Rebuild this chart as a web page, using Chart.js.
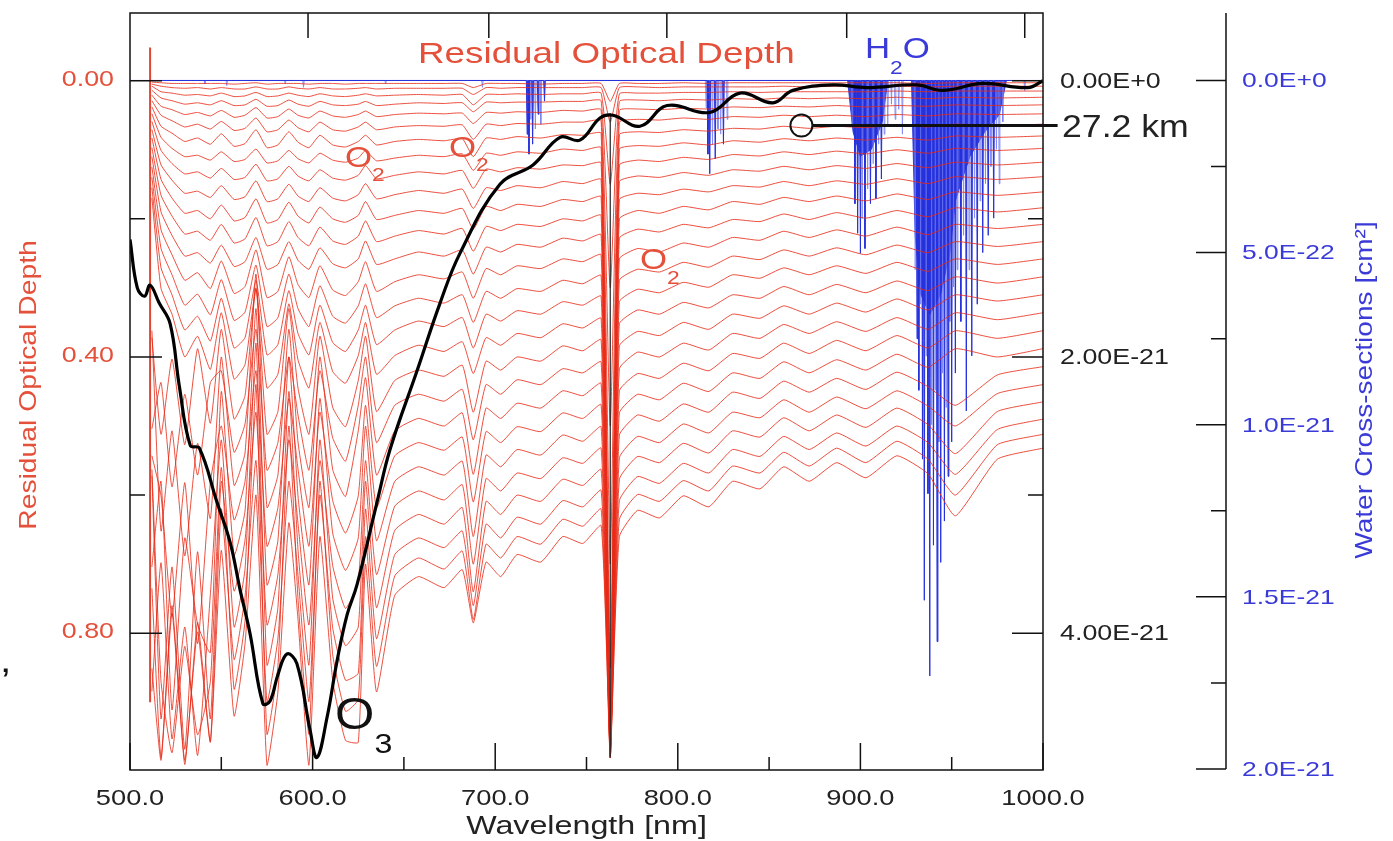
<!DOCTYPE html>
<html>
<head>
<meta charset="utf-8">
<script src="https://cdn.jsdelivr.net/npm/chart.js@4.4.1/dist/chart.umd.min.js"></script>
<style>
html, body { margin: 0; padding: 0; background: #fff; }
#wrap { position: relative; width: 1393px; height: 841px; }
</style>
</head>
<body>
<div id="wrap"><canvas id="odChart"></canvas></div>
<script>
// wavelength grid shared by the residual optical depth curves (nm)
const wavelengths = [512,517,523,530,537,544,550,557,563,569,
  575,581,587,592,598,604,611,618,625,629,
  635,645,658,672,682,688,695,703,712,725,
  737,748,758,763,768,778,790,803,817,830,
  845,858,872,887,903,920,937,952,975,1000];

// residual optical depth, one array per tangent height (top = highest)
const od01 = [0.002,0.003,0.004,0.004,0.004,0.004,0.004,0.005,0.004,0.003,
  0.005,0.004,0.004,0.004,0.005,0.004,0.004,0.005,0.004,0.004,
  0.004,0.004,0.004,0.004,0.004,0.010,0.004,0.004,0.004,0.005,
  0.004,0.004,0.004,0.030,0.004,0.004,0.004,0.003,0.004,0.003,
  0.003,0.003,0.003,0.003,0.003,0.003,0.004,0.003,0.003,0.003];
const od02 = [0.005,0.008,0.010,0.011,0.010,0.012,0.010,0.012,0.012,0.009,
  0.012,0.012,0.009,0.011,0.012,0.010,0.012,0.012,0.011,0.010,
  0.012,0.011,0.011,0.011,0.011,0.020,0.010,0.011,0.010,0.010,
  0.010,0.010,0.010,0.060,0.010,0.009,0.010,0.009,0.009,0.009,
  0.009,0.008,0.009,0.008,0.009,0.008,0.009,0.008,0.008,0.008];
const od03 = [0.008,0.016,0.018,0.021,0.020,0.022,0.018,0.023,0.022,0.017,
  0.023,0.022,0.018,0.021,0.023,0.019,0.022,0.023,0.021,0.019,
  0.022,0.021,0.020,0.021,0.020,0.035,0.020,0.020,0.019,0.020,
  0.019,0.019,0.018,0.150,0.019,0.018,0.018,0.017,0.017,0.016,
  0.017,0.016,0.016,0.016,0.016,0.015,0.016,0.015,0.015,0.015];
const od04 = [0.014,0.025,0.029,0.034,0.032,0.035,0.029,0.036,0.035,0.027,
  0.037,0.036,0.028,0.034,0.037,0.030,0.035,0.036,0.034,0.030,
  0.036,0.034,0.032,0.033,0.032,0.045,0.031,0.032,0.031,0.031,
  0.030,0.030,0.029,0.300,0.030,0.028,0.029,0.027,0.028,0.026,
  0.027,0.025,0.026,0.025,0.026,0.024,0.026,0.024,0.025,0.024];
const od05 = [0.021,0.037,0.042,0.049,0.046,0.051,0.043,0.053,0.050,0.039,
  0.054,0.052,0.041,0.050,0.054,0.044,0.051,0.053,0.049,0.044,
  0.052,0.049,0.047,0.048,0.047,0.062,0.046,0.047,0.045,0.046,
  0.043,0.044,0.042,0.500,0.043,0.041,0.042,0.040,0.041,0.038,
  0.039,0.037,0.038,0.036,0.038,0.036,0.037,0.035,0.036,0.035];
const od06 = [0.029,0.050,0.058,0.067,0.063,0.070,0.059,0.072,0.069,0.054,
  0.074,0.071,0.057,0.068,0.074,0.060,0.071,0.073,0.067,0.060,
  0.071,0.067,0.065,0.066,0.064,0.085,0.063,0.065,0.062,0.063,
  0.060,0.060,0.058,0.700,0.060,0.056,0.057,0.054,0.056,0.052,
  0.053,0.050,0.052,0.050,0.052,0.049,0.051,0.048,0.049,0.048];
const od07 = [0.038,0.066,0.076,0.088,0.083,0.092,0.077,0.095,0.091,0.071,
  0.097,0.093,0.074,0.089,0.097,0.079,0.093,0.096,0.088,0.079,
  0.093,0.088,0.085,0.087,0.084,0.110,0.083,0.085,0.081,0.083,
  0.078,0.079,0.076,0.850,0.078,0.074,0.075,0.071,0.073,0.069,
  0.070,0.066,0.069,0.066,0.068,0.064,0.067,0.063,0.065,0.063];
const od08 = [0.048,0.082,0.098,0.110,0.108,0.115,0.103,0.117,0.114,0.099,
  0.119,0.116,0.101,0.113,0.119,0.105,0.115,0.118,0.112,0.101,
  0.116,0.112,0.108,0.110,0.106,0.130,0.105,0.108,0.103,0.105,
  0.099,0.101,0.097,0.930,0.099,0.094,0.095,0.090,0.093,0.087,
  0.089,0.084,0.087,0.083,0.086,0.082,0.086,0.080,0.082,0.080];
const od09 = [0.059,0.101,0.120,0.135,0.132,0.141,0.127,0.143,0.140,0.121,
  0.145,0.142,0.124,0.138,0.145,0.129,0.141,0.144,0.137,0.123,
  0.142,0.137,0.132,0.135,0.130,0.156,0.128,0.132,0.126,0.128,
  0.122,0.123,0.119,0.970,0.122,0.115,0.117,0.111,0.114,0.107,
  0.109,0.103,0.107,0.102,0.106,0.100,0.105,0.098,0.101,0.098];
const od10 = [0.071,0.122,0.144,0.163,0.160,0.169,0.152,0.172,0.168,0.145,
  0.175,0.171,0.150,0.167,0.175,0.155,0.170,0.174,0.165,0.149,
  0.171,0.165,0.159,0.163,0.157,0.185,0.155,0.159,0.152,0.155,
  0.146,0.149,0.143,0.950,0.146,0.138,0.140,0.133,0.137,0.129,
  0.131,0.124,0.129,0.123,0.127,0.120,0.126,0.118,0.122,0.118];
const od11 = [0.083,0.143,0.170,0.192,0.188,0.200,0.180,0.203,0.198,0.171,
  0.206,0.201,0.176,0.196,0.206,0.183,0.200,0.205,0.195,0.175,
  0.201,0.195,0.188,0.192,0.185,0.215,0.182,0.188,0.179,0.182,
  0.172,0.175,0.168,0.980,0.172,0.163,0.165,0.157,0.161,0.152,
  0.154,0.146,0.152,0.145,0.150,0.142,0.149,0.139,0.143,0.139];
const od12 = [0.097,0.166,0.196,0.222,0.218,0.231,0.208,0.235,0.229,0.198,
  0.239,0.233,0.204,0.227,0.239,0.212,0.232,0.237,0.225,0.203,
  0.233,0.225,0.217,0.222,0.214,0.247,0.211,0.217,0.208,0.211,
  0.200,0.203,0.195,0.940,0.200,0.188,0.192,0.182,0.187,0.175,
  0.179,0.169,0.175,0.167,0.174,0.164,0.172,0.161,0.166,0.161];
const od13 = [0.110,0.190,0.224,0.254,0.249,0.264,0.238,0.269,0.262,0.227,
  0.273,0.266,0.233,0.260,0.273,0.242,0.265,0.271,0.258,0.232,
  0.266,0.258,0.248,0.254,0.245,0.280,0.241,0.248,0.237,0.241,
  0.228,0.232,0.223,0.960,0.228,0.215,0.219,0.208,0.213,0.201,
  0.204,0.193,0.201,0.191,0.199,0.188,0.197,0.184,0.190,0.184];
const od14 = [0.125,0.216,0.252,0.289,0.278,0.301,0.261,0.308,0.298,0.245,
  0.314,0.305,0.255,0.295,0.314,0.268,0.303,0.311,0.291,0.262,
  0.305,0.291,0.281,0.287,0.277,0.315,0.272,0.281,0.268,0.272,
  0.258,0.262,0.252,0.970,0.258,0.243,0.248,0.235,0.241,0.227,
  0.231,0.218,0.227,0.216,0.225,0.212,0.223,0.208,0.214,0.208];
const od15 = [0.140,0.243,0.281,0.325,0.309,0.339,0.288,0.347,0.335,0.267,
  0.356,0.343,0.280,0.330,0.356,0.297,0.341,0.351,0.326,0.294,
  0.343,0.326,0.315,0.322,0.310,0.350,0.305,0.315,0.301,0.305,
  0.289,0.294,0.282,0.950,0.289,0.273,0.277,0.263,0.270,0.254,
  0.259,0.245,0.254,0.242,0.252,0.238,0.249,0.233,0.240,0.233];
const od16 = [0.155,0.271,0.310,0.361,0.341,0.377,0.315,0.387,0.372,0.289,
  0.397,0.382,0.304,0.366,0.397,0.325,0.379,0.392,0.361,0.325,
  0.382,0.361,0.348,0.356,0.343,0.387,0.338,0.348,0.333,0.338,
  0.320,0.325,0.312,0.980,0.320,0.302,0.307,0.292,0.299,0.281,
  0.286,0.271,0.281,0.268,0.279,0.263,0.276,0.258,0.266,0.258];
const od17 = [0.170,0.301,0.338,0.400,0.370,0.418,0.336,0.432,0.411,0.302,
  0.445,0.425,0.323,0.404,0.445,0.350,0.421,0.438,0.398,0.350,
  0.425,0.398,0.383,0.392,0.378,0.424,0.372,0.383,0.366,0.372,
  0.352,0.358,0.344,0.960,0.352,0.332,0.338,0.321,0.329,0.310,
  0.315,0.298,0.310,0.295,0.307,0.290,0.304,0.284,0.293,0.284];
const od18 = [0.372,0.512,0.403,0.527,0.388,0.496,0.360,0.490,0.456,0.300,
  0.512,0.479,0.330,0.445,0.512,0.370,0.473,0.501,0.434,0.370,
  0.479,0.434,0.419,0.428,0.412,0.480,0.406,0.419,0.400,0.406,
  0.384,0.391,0.375,0.970,0.384,0.363,0.369,0.350,0.360,0.338,
  0.344,0.326,0.338,0.322,0.335,0.316,0.332,0.310,0.319,0.310];
const od19 = [0.504,0.437,0.588,0.454,0.571,0.437,0.420,0.538,0.497,0.360,
  0.564,0.524,0.400,0.484,0.564,0.420,0.517,0.551,0.470,0.400,
  0.524,0.470,0.454,0.464,0.447,0.520,0.440,0.454,0.433,0.440,
  0.417,0.423,0.407,0.950,0.417,0.393,0.400,0.380,0.390,0.366,
  0.373,0.353,0.366,0.349,0.363,0.343,0.360,0.336,0.346,0.336];
const od20 = [0.362,0.652,0.507,0.688,0.525,0.634,0.400,0.586,0.539,0.280,
  0.618,0.571,0.360,0.523,0.618,0.400,0.563,0.602,0.507,0.430,
  0.571,0.507,0.489,0.500,0.481,0.570,0.474,0.489,0.467,0.474,
  0.449,0.456,0.438,0.980,0.449,0.424,0.431,0.409,0.420,0.395,
  0.402,0.380,0.395,0.376,0.391,0.369,0.387,0.362,0.373,0.362];
const od21 = [0.543,0.601,0.776,0.582,0.815,0.582,0.500,0.636,0.580,0.420,
  0.674,0.618,0.460,0.562,0.674,0.480,0.608,0.655,0.601,0.470,
  0.618,0.543,0.524,0.535,0.516,0.610,0.508,0.524,0.501,0.508,
  0.481,0.489,0.469,0.960,0.481,0.454,0.462,0.438,0.450,0.423,
  0.431,0.407,0.423,0.404,0.419,0.396,0.415,0.388,0.400,0.388];
const od22 = [0.704,0.580,0.911,0.662,0.787,0.828,0.450,0.687,0.623,0.330,
  0.730,0.666,0.400,0.601,0.730,0.460,0.655,0.709,0.662,0.500,
  0.666,0.580,0.559,0.571,0.551,0.660,0.542,0.559,0.534,0.542,
  0.513,0.522,0.501,0.970,0.513,0.484,0.493,0.468,0.480,0.451,
  0.460,0.435,0.451,0.431,0.447,0.422,0.443,0.470,0.426,0.414];
const od23 = [0.572,0.924,0.704,0.968,0.682,0.924,0.580,0.739,0.665,0.480,
  0.788,0.715,0.520,0.641,0.788,0.550,0.702,0.764,0.726,0.550,
  0.715,0.616,0.594,0.607,0.585,0.700,0.576,0.594,0.568,0.576,
  0.546,0.554,0.532,0.980,0.546,0.515,0.524,0.497,0.510,0.480,
  0.488,0.462,0.480,0.458,0.475,0.449,0.471,0.500,0.453,0.440];
const od24 = [0.884,0.698,0.953,0.791,0.977,0.744,0.520,0.791,0.707,0.380,
  0.846,0.763,0.450,0.679,0.846,0.520,0.749,0.818,0.791,0.580,
  0.763,0.651,0.628,0.642,0.618,0.740,0.609,0.628,0.600,0.609,
  0.577,0.586,0.563,0.970,0.577,0.544,0.553,0.525,0.539,0.507,
  0.516,0.488,0.507,0.484,0.502,0.474,0.498,0.540,0.479,0.465];
const od25 = [0.735,0.980,0.760,0.990,0.784,0.956,0.620,0.838,0.747,0.550,
  0.899,0.808,0.580,0.716,0.899,0.600,0.792,0.868,0.858,0.620,
  0.808,0.686,0.662,0.676,0.652,0.760,0.642,0.662,0.632,0.642,
  0.608,0.617,0.593,0.960,0.608,0.573,0.583,0.554,0.568,0.534,
  0.544,0.515,0.534,0.510,0.529,0.500,0.524,0.570,0.505,0.490];
const od26 = [0.563,0.870,0.973,0.819,0.947,0.870,0.560,0.881,0.782,0.440,
  0.946,0.848,0.500,0.750,0.946,0.580,0.831,0.913,0.896,0.660,
  0.848,0.717,0.691,0.707,0.681,0.780,0.671,0.691,0.660,0.671,
  0.635,0.645,0.620,0.980,0.635,0.599,0.609,0.579,0.594,0.558,
  0.568,0.538,0.558,0.532,0.553,0.522,0.548,0.600,0.527,0.512];
const od27 = [0.851,0.984,0.771,0.984,0.798,0.958,0.680,0.920,0.815,0.600,
  0.991,0.885,0.640,0.780,0.991,0.660,0.868,0.955,0.958,0.700,
  0.885,0.745,0.718,0.734,0.708,0.785,0.697,0.718,0.686,0.697,
  0.660,0.670,0.644,0.970,0.660,0.622,0.633,0.601,0.617,0.580,
  0.591,0.559,0.580,0.553,0.575,0.543,0.569,0.630,0.548,0.532];
const odCurves = [od01,od02,od03,od04,od05,od06,od07,od08,od09,od10,od11,od12,od13,od14,
  od15,od16,od17,od18,od19,od20,od21,od22,od23,od24,od25,od26,od27];

// sharp red feature near 511 nm
const spikeNm = [511, 511];
const spikeOd = [-0.048, 0.90];

// ozone cross-section (units of 1e-21 cm2, inner right axis)
const o3Nm = [500,504,508,511,516,522,527,533,538,547.6,554.8,560.2,565.7,572.8,576.7,581,586,591.4,
  598.6,602.4,607.9,613.4,618.8,624.3,635.3,642.4,657.2,669.8,680.7,702.6,720.7,735.5,746.4,757.4,
  764.5,779.3,794.1,817.6,834,852,863,885,903.6,931,945,967,991.7,1000];
const o3Sigma = [1.15,1.50,1.56,1.48,1.61,1.76,2.21,2.64,2.66,3.05,3.34,3.68,4.00,4.51,4.49,4.30,4.15,4.22,
  4.70,4.90,4.61,4.20,3.87,3.65,3.05,2.67,2.10,1.61,1.25,0.75,0.61,0.41,0.43,0.27,
  0.25,0.33,0.18,0.23,0.09,0.16,0.07,0.03,0.05,0.03,0.07,0.02,0.05,0.0];

// thin dark line in the O2 A band
const aBandNm = [763, 763];
const aBandOd = [0.047, 0.98];

// water cross-sections (units of 1e-21 cm2, far right axis)
const h2oStrongNm = [717.5,718.5,720.5,723.5,727,816.5,817.5,820.5,825,897,898.5,900,902.5,905.5,908.5,911.5,
  931,932,934,935,937,938,940,942,944,946,948,950,952,955,958,961,964,967,970,973];
const h2oStrongSigma = [0.156,0.214,0.185,0.098,0.06,0.214,0.271,0.228,0.185,0.358,0.444,0.502,0.488,0.358,0.343,0.286,
  0.75,0.9,1.1,1.51,1.2,1.73,1.35,1.63,1.40,1.28,1.15,1.05,0.85,0.7,0.96,0.8,0.65,0.5,0.45,0.4];
const h2oWeakNm = [541,553,585,595,640,693,719.5,722,725,815.5,819,822,823.5,827,895.5,901,904,907,910,913,915,917,919,921,923,
  930,933,936,939,941,943,945,947,949,951,953,956.5,959.5,962.5,965.5,968.5,971.5,974.5,976,978,990];
const h2oWeakSigma = [0.01,0.015,0.01,0.02,0.01,0.02,0.113,0.141,0.127,0.08,0.185,0.141,0.156,0.113,0.127,0.401,0.315,0.242,0.185,0.156,0.127,0.069,0.113,0.084,0.156,
  0.55,0.65,0.8,1.0,0.9,1.05,0.85,0.95,0.7,0.6,0.55,0.45,0.55,0.4,0.35,0.3,0.25,0.2,0.3,0.12,0.03];
const h2oBandNm = [893,896,900,906,912,915,928,930,933,938,944,949,952,955,960,968,976,980];
const h2oBandSigma = [0,0.15,0.22,0.2,0.12,0,0,0.45,0.62,0.68,0.62,0.5,0.35,0.3,0.22,0.15,0.1,0];

// "27.2 km" key
const keyNm = [874, 1008];
const keyOd = [0.065, 0.065];
const keyMarkNm = [867.7];
const keyMarkOd = [0.065];

// ticks and labels
const xMajor = [500, 600, 700, 800, 900, 1000];
const xLabels = ['500.0', '600.0', '700.0', '800.0', '900.0', '1000.0'];
const xMinor = [550, 650, 750, 850, 950];
const topTickNm = [597.5, 696.5, 794, 892.5, 990];
const odMajor = [0, 0.4, 0.8];
const odLabels = ['0.00', '0.40', '0.80'];
const odMinor = [0.2, 0.6];
const o3Major = [0, 2, 4];
const o3Labels = ['0.00E+0', '2.00E-21', '4.00E-21'];
const o3Minor = [1, 3];
const h2oMajor = [0, 0.5, 1.0, 1.5, 2.0];
const h2oLabels = ['0.0E+0', '5.0E-22', '1.0E-21', '1.5E-21', '2.0E-21'];
const h2oMinor = [0.25, 0.75, 1.25, 1.75];

const FONT = '"Liberation Sans", Arial, Helvetica, sans-serif';
const RED_TXT = '#e4503a';
const BLUE_TXT = '#3a3ad8';

function pts(xs, ys) { return xs.map((x, i) => ({ x: x, y: ys[i] })); }

function spikes(nm, sig) {
  const pairs = nm.map((l, i) => [l, sig[i]]).sort((a, b) => a[0] - b[0]);
  const out = [{ x: 500, y: 0 }];
  pairs.forEach(p => {
    out.push({ x: p[0] - 0.45, y: 0 }, { x: p[0], y: p[1] }, { x: p[0] + 0.45, y: 0 });
  });
  out.push({ x: 1000, y: 0 });
  return out;
}

function txt(ctx, s, x, y, size, color, align, base, sx) {
  ctx.save();
  ctx.font = size + 'px ' + FONT;
  ctx.fillStyle = color;
  ctx.textAlign = align || 'left';
  ctx.textBaseline = base || 'alphabetic';
  ctx.translate(x, y);
  ctx.scale(sx || 1.22, 1);
  ctx.fillText(s, 0, 0);
  ctx.restore();
}

function chem(ctx, parts, x, y, color, sx) {
  let cx = x;
  parts.forEach(p => {
    ctx.save();
    ctx.font = p[1] + 'px ' + FONT;
    ctx.fillStyle = color;
    ctx.textBaseline = 'alphabetic';
    ctx.translate(cx, y + p[2]);
    ctx.scale(sx, 1);
    ctx.fillText(p[0], 0, 0);
    cx += ctx.measureText(p[0]).width * sx;
    ctx.restore();
  });
}

const axesPlugin = {
  id: 'axesPlugin',
  afterDatasetsDraw(chart) {
    const { ctx, chartArea: a, scales } = chart;
    const xs = scales.x, yl = scales.y, yr = scales.yO3, yb = scales.yH2O;
    const blueX = a.right + 183;
    ctx.save();
    ctx.strokeStyle = '#111';
    ctx.lineWidth = 1.5;
    ctx.strokeRect(a.left, a.top, a.right - a.left, a.bottom - a.top);
    ctx.beginPath();
    xMajor.forEach(v => { const p = xs.getPixelForValue(v); ctx.moveTo(p, a.bottom); ctx.lineTo(p, a.bottom - 27); });
    xMinor.forEach(v => { const p = xs.getPixelForValue(v); ctx.moveTo(p, a.bottom); ctx.lineTo(p, a.bottom - 13); });
    topTickNm.forEach(v => { const p = xs.getPixelForValue(v); ctx.moveTo(p, a.top); ctx.lineTo(p, a.top + 25); });
    odMajor.forEach(v => { const p = yl.getPixelForValue(v); ctx.moveTo(a.left, p); ctx.lineTo(a.left + 32, p); });
    odMinor.forEach(v => { const p = yl.getPixelForValue(v); ctx.moveTo(a.left, p); ctx.lineTo(a.left + 15, p); });
    o3Major.forEach(v => { const p = yr.getPixelForValue(v); ctx.moveTo(a.right, p); ctx.lineTo(a.right - 31, p); });
    o3Minor.forEach(v => { const p = yr.getPixelForValue(v); ctx.moveTo(a.right, p); ctx.lineTo(a.right - 15, p); });
    ctx.moveTo(blueX, a.top);
    ctx.lineTo(blueX, yb.getPixelForValue(2.0));
    h2oMajor.forEach(v => { const p = yb.getPixelForValue(v); ctx.moveTo(blueX, p); ctx.lineTo(blueX - 30, p); });
    h2oMinor.forEach(v => { const p = yb.getPixelForValue(v); ctx.moveTo(blueX, p); ctx.lineTo(blueX - 15, p); });
    ctx.stroke();

    // tick labels
    odMajor.forEach((v, i) => txt(ctx, odLabels[i], a.left - 16, yl.getPixelForValue(v) - 1, 22, RED_TXT, 'right', 'middle', 1.22));
    xMajor.forEach((v, i) => txt(ctx, xLabels[i], xs.getPixelForValue(v), 805, 22, '#222', 'center', 'alphabetic', 1.24));
    o3Major.forEach((v, i) => txt(ctx, o3Labels[i], a.right + 17, yr.getPixelForValue(v) + 1, 22, '#222', 'left', 'middle', 1.22));
    h2oMajor.forEach((v, i) => txt(ctx, h2oLabels[i], blueX + 16, yb.getPixelForValue(v) + 1, 21, BLUE_TXT, 'left', 'middle', 1.26));

    // axis titles
    txt(ctx, 'Wavelength [nm]', xs.getPixelForValue(750), 834, 26, '#222', 'center', 'alphabetic', 1.24);
    ctx.save();
    ctx.translate(36, 385);
    ctx.rotate(-Math.PI / 2);
    txt(ctx, 'Residual Optical Depth', 0, 0, 24, RED_TXT, 'center', 'alphabetic', 1.18);
    ctx.restore();
    ctx.save();
    ctx.translate(1372, 390);
    ctx.rotate(-Math.PI / 2);
    txt(ctx, 'Water Cross-sections [cm²]', 0, 0, 24, BLUE_TXT, 'center', 'alphabetic', 1.17);
    ctx.restore();

    // in-plot annotations
    txt(ctx, 'Residual Optical Depth', xs.getPixelForValue(657.7), yl.getPixelForValue(-0.026), 29, RED_TXT, 'left', 'alphabetic', 1.27);
    chem(ctx, [['H', 29, 0], ['2', 19, 16], ['O', 29, 0]], xs.getPixelForValue(902.5), yl.getPixelForValue(-0.033), BLUE_TXT, 1.2);
    chem(ctx, [['O', 29, 0], ['2', 19, 14]], xs.getPixelForValue(617.7), yl.getPixelForValue(0.125), RED_TXT, 1.2);
    chem(ctx, [['O', 29, 0], ['2', 19, 14]], xs.getPixelForValue(674.7), yl.getPixelForValue(0.111), RED_TXT, 1.2);
    chem(ctx, [['O', 29, 0], ['2', 19, 15]], xs.getPixelForValue(779.3), yl.getPixelForValue(0.272), RED_TXT, 1.2);
    chem(ctx, [['O', 44, 0], ['3', 28, 24]], xs.getPixelForValue(612.3), yl.getPixelForValue(0.938), '#111', 1.15);
    txt(ctx, '27.2 km', xs.getPixelForValue(1010.4), yl.getPixelForValue(0.082), 31, '#222', 'left', 'alphabetic', 1.15);
    txt(ctx, ',', 0, 672, 34, '#111', 'left', 'alphabetic', 1.2);
    ctx.restore();
  }
};

const redDatasets = odCurves.map(vals => ({
  data: pts(wavelengths, vals),
  yAxisID: 'y',
  borderColor: 'rgba(232,42,22,0.82)',
  borderWidth: 1,
  pointRadius: 0,
  tension: 0.15,
  order: 3
}));

const datasets = [
  {
    data: pts(keyMarkNm, keyMarkOd), yAxisID: 'y', showLine: false,
    pointRadius: 11, pointBorderWidth: 2, pointBorderColor: '#111',
    pointBackgroundColor: 'rgba(0,0,0,0)', pointStyle: 'circle', order: 0
  },
  {
    data: pts(keyNm, keyOd), yAxisID: 'y', borderColor: '#111', borderWidth: 3,
    pointRadius: 0, clip: false, order: 0
  },
  {
    data: pts(o3Nm, o3Sigma), yAxisID: 'yO3', borderColor: '#000', borderWidth: 3.2,
    pointRadius: 0, tension: 0.4, order: 1
  },
  {
    data: pts(aBandNm, aBandOd), yAxisID: 'y', borderColor: '#222', borderWidth: 1.2,
    pointRadius: 0, order: 1
  },
  {
    data: pts(spikeNm, spikeOd), yAxisID: 'y', borderColor: 'rgba(225,50,30,0.9)', borderWidth: 2,
    pointRadius: 0, order: 3
  },
  ...redDatasets,
  {
    data: spikes(h2oStrongNm, h2oStrongSigma), yAxisID: 'yH2O', borderColor: '#2430dc', borderWidth: 1,
    backgroundColor: 'rgba(36,48,220,0.85)', fill: { value: 0 }, pointRadius: 0, order: 5
  },
  {
    data: spikes(h2oWeakNm, h2oWeakSigma), yAxisID: 'yH2O', borderColor: 'rgba(110,120,240,0.65)', borderWidth: 1,
    backgroundColor: 'rgba(110,120,240,0.4)', fill: { value: 0 }, pointRadius: 0, order: 6
  },
  {
    data: pts(h2oBandNm, h2oBandSigma), yAxisID: 'yH2O', borderColor: 'rgba(36,48,220,0.9)', borderWidth: 1,
    backgroundColor: 'rgba(36,48,220,0.9)', fill: { value: 0 }, pointRadius: 0, order: 6
  }
];

new Chart(document.getElementById('odChart'), {
  type: 'line',
  data: { datasets: datasets },
  options: {
    responsive: true,
    maintainAspectRatio: false,
    animation: false,
    events: [],
    layout: { padding: { left: 130, right: 350, top: 8, bottom: 71 } },
    scales: {
      x: { type: 'linear', min: 500, max: 1000, display: false },
      y: { type: 'linear', min: -0.098, max: 0.998, reverse: true, display: false },
      yO3: { type: 'linear', min: -0.49, max: 4.99, reverse: true, display: false },
      yH2O: { type: 'linear', min: -0.196, max: 2.003, reverse: true, display: false }
    },
    plugins: { legend: { display: false }, tooltip: { enabled: false } }
  },
  plugins: [axesPlugin]
});
</script>
</body>
</html>
